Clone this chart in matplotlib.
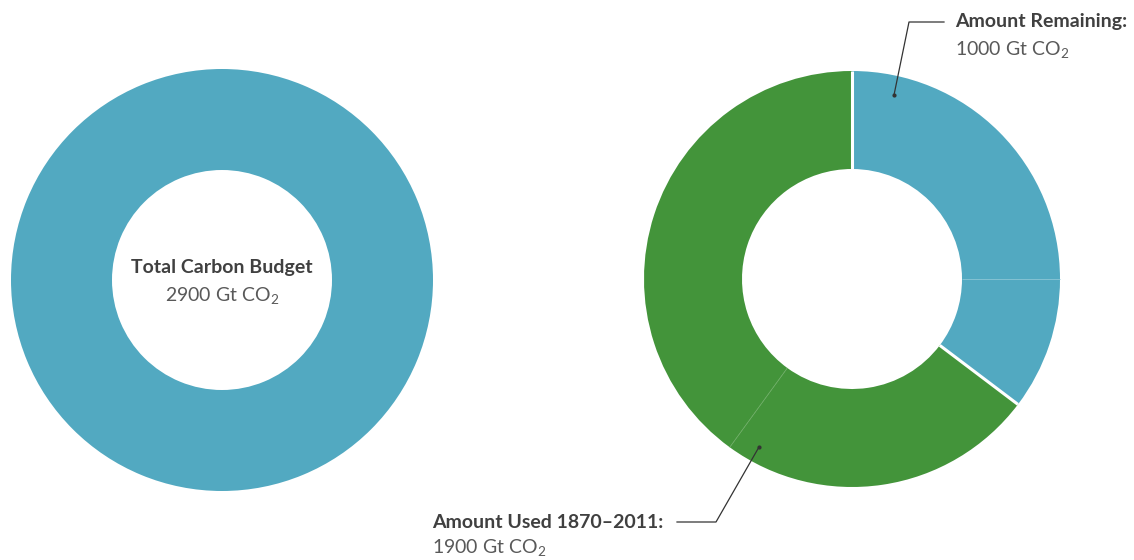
import matplotlib
matplotlib.use("Agg")
import matplotlib.pyplot as plt
import numpy as np

W, H = 1134, 560

# data (share of each slice, clockwise from 12 o'clock)
total_slices = [100]
total_colors = ["#52a9c1"]
split_slices = [25, 10.3, 24.7, 40]
split_colors = ["#52a9c1", "#52a9c1", "#43943a", "#43943a"]

total_label = "Total Carbon Budget"
total_value = "2900 Gt CO$_2$"
remain_label = "Amount Remaining:"
remain_value = "1000 Gt CO$_2$"
used_label = "Amount Used 1870\u20132011:"
used_value = "1900 Gt CO$_2$"

plt.rcParams["font.family"] = ["Lato", "DejaVu Sans"]
plt.rcParams["mathtext.default"] = "regular"

fig = plt.figure(figsize=(W / 100, H / 100), dpi=100)
ax = fig.add_axes([0, 0, 1, 1])
ax.set_xlim(0, W)
ax.set_ylim(0, H)
ax.set_aspect("equal")
ax.axis("off")


def py(y):
    # pixel row -> data y
    return H - y


def donut(vals, colors, cx, cy, r, w):
    ax.pie(vals, colors=colors, center=(cx, py(cy)), radius=r,
           startangle=90, counterclock=False,
           wedgeprops=dict(width=w, linewidth=0))
    if len(vals) < 2:
        return
    cum = np.cumsum([0] + list(vals))[:-1] / float(sum(vals))
    for i, c in enumerate(cum):
        ang = np.deg2rad(90 - 360 * c)
        prev = colors[i - 1]
        if prev != colors[i]:
            col, lw = "white", 2.2
        else:
            col, lw = "#8cc6d6" if colors[i] == "#52a9c1" else "#6aab62", 0.6
        ax.plot([cx + (r - w) * np.cos(ang), cx + r * np.cos(ang)],
                [py(cy) + (r - w) * np.sin(ang), py(cy) + r * np.sin(ang)],
                color=col, lw=lw, solid_capstyle="butt")


donut(total_slices, total_colors, 222, 280, 211, 101)
donut(split_slices, split_colors, 852, 279, 208, 98)
ax.set_xlim(0, W)
ax.set_ylim(0, H)

dark = "#404040"
light = "#595959"
fs = 14

ax.text(222, py(267), total_label, ha="center", va="center",
        fontsize=fs, fontweight="bold", color=dark)
ax.text(222, py(295), total_value, ha="center", va="center",
        fontsize=fs, color=light)

# remaining annotation
ax.plot([894, 909, 944], [py(95), py(22), py(22)], color="#333333", lw=0.9)
ax.plot([894], [py(95)], "o", ms=2, color="#333333")
ax.text(955, py(22), remain_label, ha="left", va="center",
        fontsize=fs, fontweight="bold", color=dark)
ax.text(955, py(50), remain_value, ha="left", va="center",
        fontsize=fs, color=light)

# used annotation
ax.plot([677, 716, 759], [py(522), py(522), py(447)], color="#333333", lw=0.9)
ax.plot([759], [py(447)], "o", ms=2, color="#333333")
ax.text(432, py(522), used_label, ha="left", va="center",
        fontsize=fs, fontweight="bold", color=dark)
ax.text(432, py(548), used_value, ha="left", va="center",
        fontsize=fs, color=light)

fig.savefig("out.png", dpi=100)
